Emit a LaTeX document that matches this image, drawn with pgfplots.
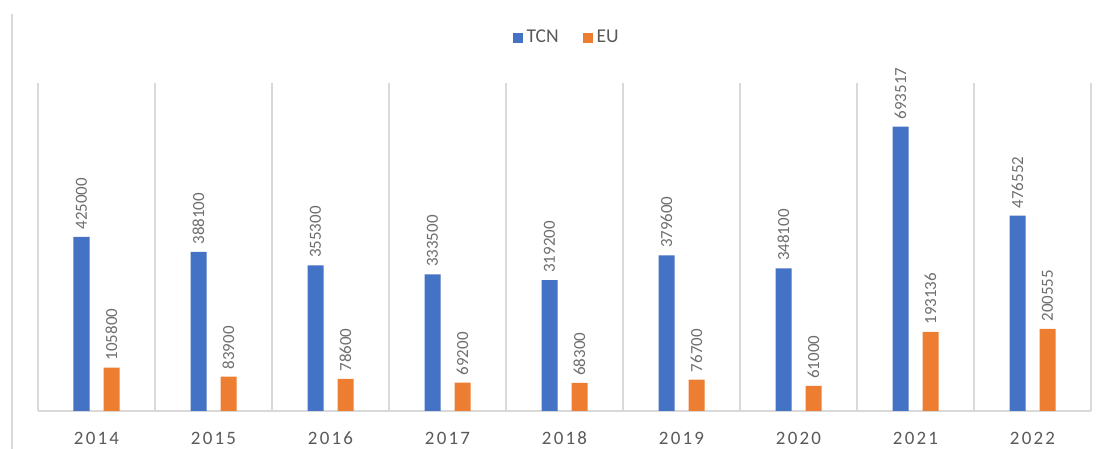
\documentclass[border=0pt]{standalone}
\usepackage{fontspec}
\setmainfont{Carlito}
\usepackage{pgfplots}
\pgfplotsset{compat=1.18}
\definecolor{tcnblue}{RGB}{68,114,196}
\definecolor{euorange}{RGB}{237,125,49}
\definecolor{gridgray}{RGB}{217,217,217}
\definecolor{labgray}{RGB}{110,110,110}
\definecolor{tickgray}{RGB}{89,89,89}
\begin{document}
\begin{tikzpicture}
\path[use as bounding box] (0,0) rectangle (552bp,224.5bp);
\draw[gridgray, line width=0.8bp] (6bp,0) -- (6bp,217.5bp);
\begin{axis}[
  at={(19bp,19bp)}, anchor=south west,
  scale only axis, width=526.5bp, height=164bp,
  ybar=7bp, bar width=8bp,
  xmin=-0.5, xmax=8.5, ymin=0, ymax=800000,
  axis x line*=bottom, axis y line=none,
  x axis line style={gridgray, line width=0.8bp, -},
  xtick={0,...,8},
  xticklabels={2014,2015,2016,2017,2018,2019,2020,2021,2022},
  minor xtick={-0.5,0.5,...,8.5},
  xminorgrids=true, xmajorgrids=false,
  minor grid style={gridgray, line width=0.8bp},
  major tick length=0pt, minor tick length=0pt,
  xticklabel style={font=\fontsize{9.5}{10}\selectfont\addfontfeature{LetterSpace=12}, text=tickgray, yshift=-7bp},
  /pgf/number format/.cd, fixed, precision=0, 1000 sep={}, assume math mode=true, /pgfplots/.cd,
  nodes near coords,
  every node near coord/.append style={rotate=90, anchor=west, inner sep=3.5bp, font=\fontsize{8.5}{9}\selectfont, text=labgray},
  legend style={at={(0.503,1.137)}, anchor=center, draw=none, fill=none, legend columns=2,
    font=\fontsize{9.8}{10}\selectfont, text=tickgray,
    /tikz/every even column/.append style={column sep=10bp}},
  legend image code/.code={\fill[#1] (0bp,-2.5bp) rectangle (5bp,2.5bp);},
]
\addplot[fill=tcnblue, draw=none] coordinates {(0,425000) (1,388100) (2,355300) (3,333500) (4,319200) (5,379600) (6,348100) (7,693517) (8,476552)};
\addplot[fill=euorange, draw=none] coordinates {(0,105800) (1,83900) (2,78600) (3,69200) (4,68300) (5,76700) (6,61000) (7,193136) (8,200555)};
\legend{TCN,EU}
\end{axis}
\end{tikzpicture}
\end{document}
